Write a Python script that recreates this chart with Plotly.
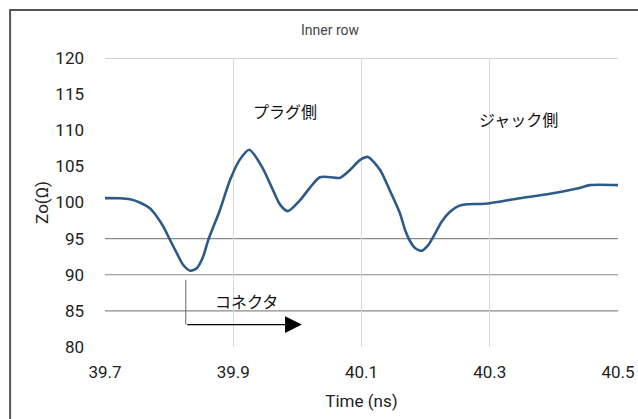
import plotly.graph_objects as go

# Data
time_ns = [39.700, 39.723, 39.739, 39.755, 39.770, 39.781, 39.791, 39.801, 39.812, 39.822,
           39.833, 39.843, 39.853, 39.861, 39.879, 39.895, 39.910, 39.925, 39.945, 39.960,
           39.973, 39.985, 40.004, 40.020, 40.035, 40.051, 40.066, 40.082, 40.098, 40.110,
           40.129, 40.144, 40.160, 40.168, 40.176, 40.184, 40.194, 40.204, 40.215, 40.225,
           40.238, 40.251, 40.264, 40.285, 40.300, 40.347, 40.394, 40.440, 40.456, 40.500]
zo_ohm = [100.6, 100.58, 100.44, 99.97, 99.2, 98.04, 96.66, 94.9, 92.98, 91.35,
          90.56, 90.9, 92.5, 94.8, 98.9, 103.1, 105.9, 107.3, 104.9, 102.1,
          99.7, 98.8, 100.3, 102.1, 103.5, 103.5, 103.4, 104.5, 105.9, 106.3,
          104.5, 101.7, 98.5, 96.2, 94.6, 93.66, 93.33, 94.1, 95.74, 97.35,
          98.73, 99.5, 99.75, 99.8, 99.9, 100.6, 101.2, 102.0, 102.4, 102.4]

x_ticks = [39.7, 39.9, 40.1, 40.3, 40.5]
y_ticks = [80, 85, 90, 95, 100, 105, 110, 115, 120]
dark_hlines = [85, 90, 95]
light_hlines = [120]

FONT = "Roboto, DejaVu Sans, sans-serif"
JP = "Noto Sans CJK JP"

fig = go.Figure()
fig.add_trace(go.Scatter(x=time_ns, y=zo_ohm, mode="lines",
                         line=dict(color="#2c5a89", width=2.6, shape="spline", smoothing=0.7),
                         hoverinfo="skip", showlegend=False))

shapes = []
for v in dark_hlines:
    shapes.append(dict(type="line", xref="paper", x0=0, x1=1, yref="y", y0=v, y1=v,
                       line=dict(color="#8a8a8a", width=1.2), layer="below"))
for v in light_hlines:
    shapes.append(dict(type="line", xref="paper", x0=0, x1=1, yref="y", y0=v, y1=v,
                       line=dict(color="#a8a8a8", width=1.2), layer="below"))
# outer frame
shapes.append(dict(type="rect", xref="paper", yref="paper", x0=-0.185, x1=1.2, y0=-0.4, y1=1.166,
                   line=dict(color="#555555", width=2)))
# connector bracket
shapes.append(dict(type="line", xref="x", yref="y", x0=39.826, x1=39.826, y0=89.3, y1=83.1,
                   line=dict(color="#666666", width=1)))

fig.update_layout(
    width=638, height=419,
    margin=dict(l=105, r=20, t=58, b=72, autoexpand=False),
    paper_bgcolor="white", plot_bgcolor="white",
    shapes=shapes,
    title=dict(text="Inner row", x=330/638, xanchor="center", y=1-30/419, yanchor="middle",
               font=dict(family=FONT, size=14, color="#444444")),
    xaxis=dict(range=[39.7, 40.5], tickvals=x_ticks, ticktext=[f"{v:.1f}" for v in x_ticks],
               showgrid=True, gridcolor="#d9d9d9", gridwidth=1.2, zeroline=False,
               showline=False, ticks="", ticklabelstandoff=13, automargin=False,
               tickfont=dict(family=FONT, size=17, color="#222222"),
               title=dict(text="Time (ns)", font=dict(family=FONT, size=17, color="#222222"), standoff=14)),
    yaxis=dict(range=[80, 120], tickvals=y_ticks, showgrid=False, zeroline=False,
               showline=False, ticks="", ticklabelstandoff=20, automargin=False,
               tickfont=dict(family=FONT, size=17, color="#222222"),
               title=dict(text="Zo(Ω)", font=dict(family=FONT, size=17, color="#222222"), standoff=2)),
    annotations=[
        dict(x=39.98, y=112.6, xref="x", yref="y", text="プラグ側", showarrow=False,
             font=dict(family=JP, size=16, color="#111111")),
        dict(x=40.345, y=111.6, xref="x", yref="y", text="ジャック側", showarrow=False,
             font=dict(family=JP, size=16, color="#111111")),
        dict(x=39.92, y=86.3, xref="x", yref="y", text="コネクタ", showarrow=False,
             font=dict(family=JP, size=16, color="#111111")),
        dict(x=40.007, y=83.1, ax=39.826, ay=83.1, xref="x", yref="y", axref="x", ayref="y",
             text="", showarrow=True, arrowhead=2, arrowsize=2.8, arrowwidth=1.2,
             arrowcolor="#000000"),
    ],
)

fig.write_html("out.html", config={"displayModeBar": False},
               post_script="document.body.style.margin='0';document.body.style.overflow='hidden';")
